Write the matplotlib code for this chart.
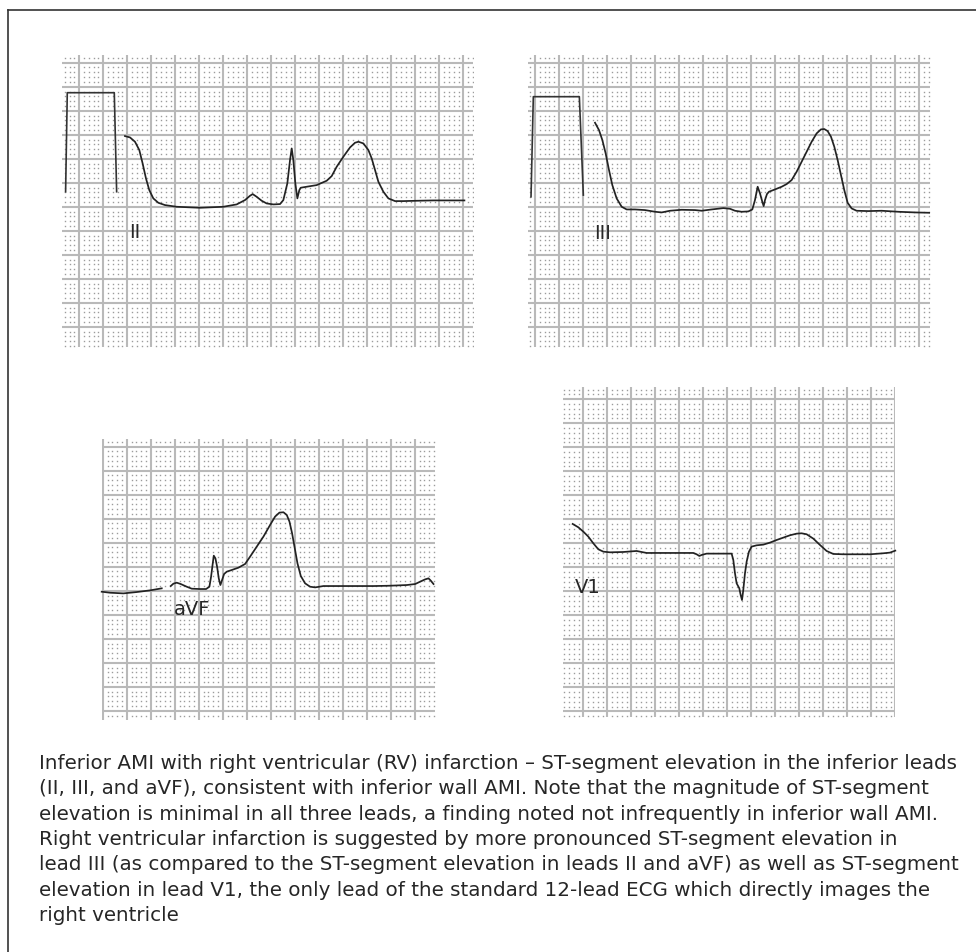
import numpy as np
import matplotlib.pyplot as plt
from matplotlib.lines import Line2D

W, H = 976, 952

# ---- traces, in small boxes (mm) of each strip ----
# lead II
ii_cal_x = [-2.85, -2.5, 7.29, 7.78]
ii_cal_y = [3.13, 23.75, 23.75, 3.13]
ii_x = [9.51, 10.56, 11.60, 12.50, 13.19, 13.89, 14.58, 15.42, 16.46, 17.85,
        20.28, 25.14, 30.0, 32.78, 34.51, 35.56, 36.11, 36.94, 37.99, 39.03,
        40.42, 41.81, 42.50, 43.33, 43.89, 44.24, 44.58, 45.0, 45.42, 45.83,
        46.11, 47.36, 49.44, 51.53, 52.57, 53.61, 55.0, 56.39, 57.43, 58.13,
        59.17, 60.21, 60.90, 61.60, 62.29, 63.33, 64.38, 65.76, 67.5, 70.28,
        73.75, 77.22, 80.21]
ii_y = [14.72, 14.44, 13.54, 11.81, 9.03, 5.90, 3.47, 1.74, 0.83, 0.35,
        0.0, -0.21, 0.0, 0.49, 1.39, 2.29, 2.64, 2.08, 1.25, 0.69,
        0.49, 0.56, 1.39, 4.86, 9.72, 12.15, 9.72, 4.86, 1.74, 3.47,
        3.96, 4.17, 4.51, 5.42, 6.39, 8.33, 10.42, 12.36, 13.33, 13.54,
        13.19, 11.81, 10.07, 7.64, 5.21, 3.13, 1.74, 1.18, 1.18, 1.25,
        1.32, 1.32, 1.32]

# lead III
iii_cal_x = [-0.83, -0.35, 9.24, 10.07]
iii_cal_y = [2.08, 22.92, 22.92, 2.43]
iii_x = [12.5, 13.33, 14.03, 14.72, 15.42, 16.11, 17.01, 18.06, 19.10, 20.83,
         22.92, 25.0, 26.39, 28.13, 30.56, 33.33, 34.72, 36.81, 39.24, 40.63,
         41.67, 43.06, 44.44, 45.28, 45.83, 46.39, 46.88, 47.36, 47.64, 47.92,
         48.33, 48.75, 50.0, 51.39, 52.43, 53.47, 54.51, 55.56, 56.60, 57.64,
         58.68, 59.58, 60.28, 60.97, 61.67, 62.36, 63.06, 63.75, 64.44, 65.14,
         65.97, 67.01, 69.44, 72.22, 75.69, 79.17, 82.15]
iii_y = [17.5, 15.97, 13.89, 11.11, 7.64, 4.51, 1.74, 0.0, -0.56, -0.56,
         -0.69, -1.04, -1.18, -0.83, -0.63, -0.69, -0.83, -0.56, -0.28, -0.42,
         -0.83, -1.04, -0.97, -0.56, 1.39, 4.17, 2.78, 1.04, 0.14, 1.39,
         2.64, 3.13, 3.61, 4.17, 4.72, 5.56, 7.29, 9.38, 11.46, 13.54,
         15.28, 16.11, 16.18, 15.76, 14.58, 12.5, 9.72, 6.60, 3.47, 0.83,
         -0.35, -0.83, -0.90, -0.83, -1.04, -1.18, -1.25]

# lead aVF (two pieces, gap between them)
avf_x1 = [-0.21, 1.53, 4.31, 7.08, 9.86, 12.29]
avf_y1 = [-0.21, -0.42, -0.56, -0.28, 0.07, 0.49]
avf_x2 = [14.17, 14.72, 15.42, 16.25, 17.5, 18.54, 20.28, 21.53, 22.22, 22.57,
          22.92, 23.13, 23.47, 23.82, 24.17, 24.51, 24.86, 25.28, 25.83, 26.88,
          28.26, 29.65, 30.69, 32.08, 33.47, 34.86, 35.90, 36.81, 37.64, 38.33,
          38.89, 39.44, 40.0, 40.56, 41.25, 42.15, 43.19, 44.24, 45.97, 49.44,
          52.92, 56.39, 59.86, 63.33, 65.07, 66.11, 67.15, 67.85, 68.33, 68.89]
avf_y2 = [0.97, 1.46, 1.67, 1.39, 0.83, 0.42, 0.35, 0.35, 0.83, 2.92,
          5.69, 7.29, 6.74, 5.0, 2.57, 1.18, 2.22, 3.47, 3.96, 4.31,
          4.79, 5.56, 7.08, 9.17, 11.25, 13.68, 15.42, 16.25, 16.32, 15.76,
          14.38, 11.94, 8.82, 5.69, 3.06, 1.53, 0.83, 0.69, 0.97, 0.97,
          0.97, 0.97, 1.04, 1.18, 1.39, 1.88, 2.36, 2.57, 2.08, 1.39]

# lead V1
v1_x = [-2.22, -1.04, 0.0, 1.04, 2.08, 3.13, 4.17, 5.56, 8.33, 11.11,
        12.15, 13.19, 15.97, 19.44, 22.92, 23.61, 24.17, 24.65, 25.69, 27.78,
        29.86, 30.90, 31.25, 31.60, 31.94, 32.5, 32.78, 33.06, 33.33, 33.68,
        34.03, 34.51, 35.07, 36.11, 37.5, 38.89, 40.28, 41.67, 43.06, 44.44,
        45.49, 46.53, 47.92, 49.31, 50.69, 52.08, 54.17, 57.22, 59.72, 62.5,
        63.89, 65.0]
v1_y = [4.03, 3.33, 2.43, 1.39, 0.0, -1.25, -1.74, -1.88, -1.81, -1.60,
        -1.81, -2.01, -2.01, -2.01, -2.01, -2.29, -2.64, -2.43, -2.15, -2.15,
        -2.15, -2.15, -3.47, -6.25, -8.33, -9.38, -10.76, -11.81, -9.72, -6.25,
        -3.82, -1.74, -0.69, -0.42, -0.28, 0.14, 0.69, 1.18, 1.67, 2.01,
        2.08, 1.88, 0.97, -0.35, -1.60, -2.22, -2.29, -2.29, -2.29, -2.08,
        -1.94, -1.53]

caption = [
    "Inferior AMI with right ventricular (RV) infarction \u2013 ST-segment elevation in the inferior leads",
    "(II, III, and aVF), consistent with inferior wall AMI. Note that the magnitude of ST-segment",
    "elevation is minimal in all three leads, a finding noted not infrequently in inferior wall AMI.",
    "Right ventricular infarction is suggested by more pronounced ST-segment elevation in",
    "lead III (as compared to the ST-segment elevation in leads II and aVF) as well as ST-segment",
    "elevation in lead V1, the only lead of the standard 12-lead ECG which directly images the",
    "right ventricle",
]

TRACE = '#222222'
TXT = '#262626'


def strip(fig, box, xlim, ylim):
    # box = pixel box (x0, y0, x1, y1) from the top-left of the figure
    x0, y0, x1, y1 = box
    ax = fig.add_axes([x0 / W, 1 - y1 / H, (x1 - x0) / W, (y1 - y0) / H])
    ax.set_xlim(xlim)
    ax.set_ylim(ylim)
    ax.axis('off')
    # dotted 1 mm grid
    mx = [m for m in range(int(np.ceil(xlim[0])), int(np.floor(xlim[1])) + 1) if m % 5]
    my = [m for m in range(int(np.ceil(ylim[0])), int(np.floor(ylim[1])) + 1) if m % 5]
    gx, gy = np.meshgrid(mx, my)
    ax.plot(gx.ravel(), gy.ravel(), 's', ms=1.0, mew=0, color='#9c9c9c', zorder=1)
    # 5 mm lines
    for v in np.arange(np.ceil(xlim[0] / 5) * 5, xlim[1] + 0.01, 5):
        ax.axvline(v, color='#b9b9b9', lw=1.5, zorder=2)
    for v in np.arange(np.ceil(ylim[0] / 5) * 5, ylim[1] + 0.01, 5):
        ax.axhline(v, color='#b9b9b9', lw=1.5, zorder=2)
    return ax


fig = plt.figure(figsize=(W / 100, H / 100), dpi=100)

ax = strip(fig, (62, 55, 473, 347), (-3.6, 82.0), (-29.2, 31.6))
ax.plot(ii_cal_x, ii_cal_y, color='#333333', lw=1.2, zorder=3)
ax.plot(ii_x, ii_y, color=TRACE, lw=1.25, zorder=3)
ax.text(10.35, -6.5, 'II', fontsize=14, color=TXT, va='baseline')

ax = strip(fig, (528, 55, 930, 347), (-1.46, 82.3), (-29.2, 31.6))
ax.plot(iii_cal_x, iii_cal_y, color='#333333', lw=1.2, zorder=3)
ax.plot(iii_x, iii_y, color=TRACE, lw=1.25, zorder=3)
ax.text(12.3, -6.7, 'III', fontsize=14, color=TXT, va='baseline')

ax = strip(fig, (101.5, 439.3, 435, 720), (-0.25, 69.2), (-26.9, 31.5))
ax.plot(avf_x1, avf_y1, color=TRACE, lw=1.25, zorder=3, clip_on=False)
ax.plot(avf_x2, avf_y2, color=TRACE, lw=1.25, zorder=3)
ax.text(14.85, -5.06, 'aVF', fontsize=14, color=TXT, va='baseline')

ax = strip(fig, (563.3, 386.7, 895.3, 716.7), (-4.17, 65.0), (-36.1, 32.6))
ax.plot(v1_x, v1_y, color=TRACE, lw=1.25, zorder=3, clip_on=False)
ax.text(-1.73, -10.35, 'V1', fontsize=14, color=TXT, va='baseline')

# caption
for i, line in enumerate(caption):
    fig.text(39 / W, 1 - (769 + 25.3 * i) / H, line, fontsize=14.3,
             color=TXT, va='baseline', ha='left')

# outer frame (left and top)
fig.add_artist(Line2D([7.5 / W, 7.5 / W], [0, 1 - 10 / H], color='#333333', lw=1.2))
fig.add_artist(Line2D([7.5 / W, 1], [1 - 10 / H, 1 - 10 / H], color='#333333', lw=1.2))

fig.savefig('out.png', dpi=100)
